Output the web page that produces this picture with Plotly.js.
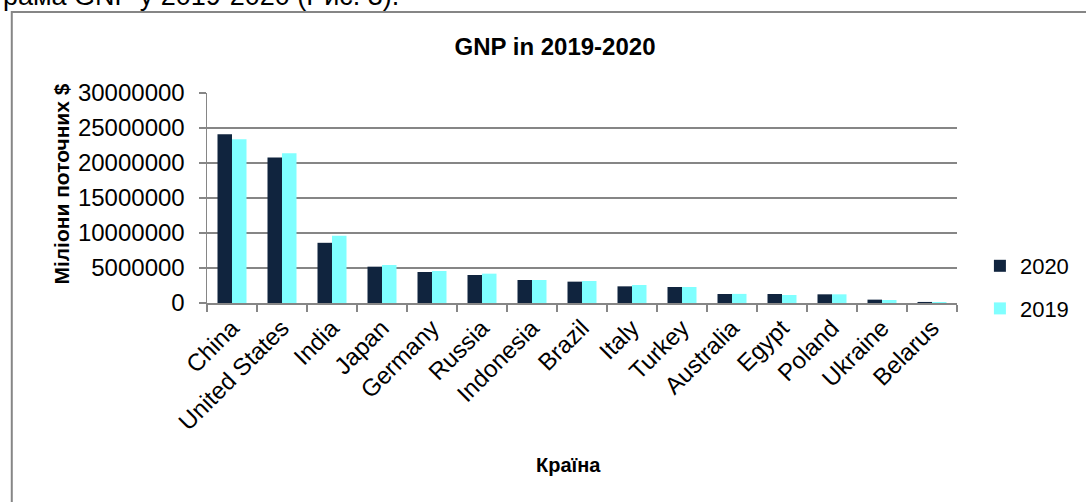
<!DOCTYPE html>
<html>
<head>
<meta charset="utf-8">
<script src="https://cdn.plot.ly/plotly-3.0.1.min.js"></script>
<style>
html,body{margin:0;padding:0;background:#fff;}
#chart{width:1086px;height:502px;}
</style>
</head>
<body>
<div id="chart"></div>
<script>
const countries = ["China","United States","India","Japan","Germany","Russia","Indonesia","Brazil","Italy","Turkey","Australia","Egypt","Poland","Ukraine","Belarus"];
const gnp2020 = [24100000,20800000,8600000,5190000,4430000,4000000,3290000,3050000,2380000,2290000,1290000,1290000,1240000,480000,150000];
const gnp2019 = [23400000,21400000,9600000,5430000,4570000,4190000,3290000,3140000,2570000,2290000,1300000,1140000,1240000,430000,140000];
const yTicks = [0,5000000,10000000,15000000,20000000,25000000,30000000];
const yTickText = ["0","5000000","10000000","15000000","20000000","25000000","30000000"];

const FONT = "Liberation Sans, Arial, sans-serif";
const ML = 207, MR = 126, MT = 93, MB = 199;
const PW = 1086 - ML - MR, PH = 502 - MT - MB;
const px = x => (x - ML) / PW;
const py = y => (502 - MB - y) / PH;

const traces = [
  {type:"bar", name:"2020", x:countries, y:gnp2020, marker:{color:"#10243E"}, legendgroup:"a"},
  {type:"bar", name:"2019", x:countries, y:gnp2019, marker:{color:"#80FFFF"}, legendgroup:"b"}
];

const layout = {
  width:1086, height:502,
  margin:{l:ML, r:MR, t:MT, b:MB, pad:0},
  paper_bgcolor:"#fff", plot_bgcolor:"#fff",
  font:{family:FONT, color:"#000", size:22},
  barmode:"group", bargap:0.42, bargroupgap:0,
  title:{text:"<b>GNP in 2019-2020</b>", font:{family:FONT, size:24, color:"#000"},
         xref:"container", yref:"container", x:555/1086, y:1-47/502, xanchor:"center", yanchor:"middle"},
  xaxis:{type:"category", tickangle:-45, tickfont:{size:24}, ticks:"outside", ticklen:7, tickcolor:"#868686",
         tickwidth:1.5, tickson:"boundaries", showline:true, linecolor:"#868686", linewidth:1.5,
         showgrid:false, zeroline:false, automargin:false},
  yaxis:{range:[0,30000000], tickvals:yTicks, ticktext:yTickText, tickfont:{size:24},
         ticks:"outside", ticklen:7, tickcolor:"#868686", tickwidth:1.5, ticklabelstandoff:9,
         showline:true, linecolor:"#868686", linewidth:1.5,
         showgrid:true, gridcolor:"#868686", gridwidth:1.5, zeroline:false, automargin:false},
  legend:{x:px(983), y:py(245), xanchor:"left", yanchor:"top", font:{size:22},
          tracegroupgap:11, bgcolor:"rgba(0,0,0,0)", traceorder:"grouped"},
  showlegend:true,
  annotations:[
    {text:"<b>Міліони поточних $</b>", textangle:-90, xref:"paper", yref:"paper",
     x:px(60), y:py(184), xanchor:"center", yanchor:"middle", showarrow:false,
     font:{family:FONT, size:21, color:"#000"}},
    {text:"<b>Країна</b>", xref:"paper", yref:"paper",
     x:px(570), y:py(465), xanchor:"center", yanchor:"middle", showarrow:false,
     font:{family:FONT, size:20, color:"#000"}},
    {text:"рама GNP у 2019-2020 (Рис. 3).", xref:"paper", yref:"paper",
     x:px(0), y:py(-4), xanchor:"left", yanchor:"middle", showarrow:false,
     font:{family:FONT, size:27, color:"#000"}}
  ],
  shapes:[
    {type:"rect", xref:"paper", yref:"paper", x0:px(11), x1:px(1100), y0:py(12), y1:py(520),
     line:{color:"#868686", width:2}, fillcolor:"rgba(0,0,0,0)", layer:"below"}
  ]
};

Plotly.newPlot("chart", traces, layout, {displayModeBar:false, staticPlot:true});
</script>
</body>
</html>
